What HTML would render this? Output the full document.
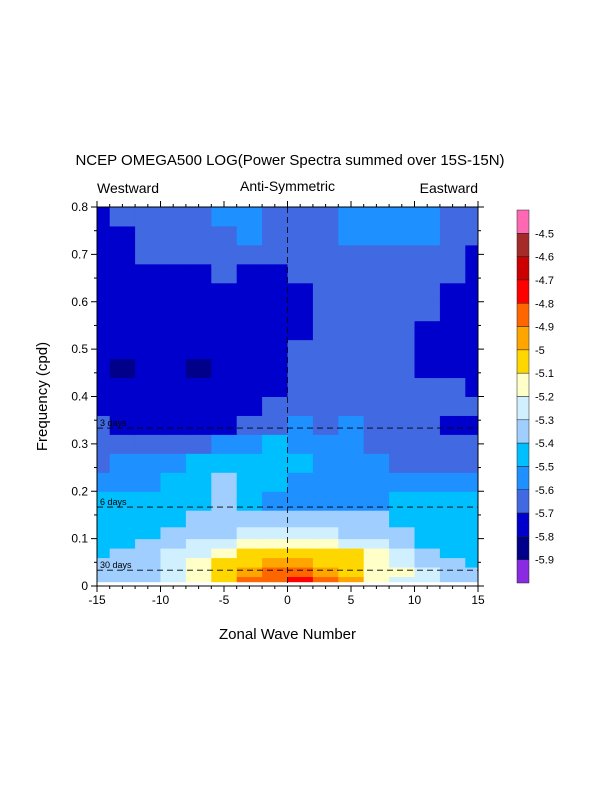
<!DOCTYPE html>
<html><head><meta charset="utf-8"><style>
body{margin:0;background:#fff;}
svg{display:block;font-family:"Liberation Sans",sans-serif;}
</style></head><body>
<svg id="chart" width="612" height="792">
<text x="290" y="165" font-size="15" text-anchor="middle">NCEP OMEGA500 LOG(Power Spectra summed over 15S-15N)</text>
<text x="97" y="193" font-size="14">Westward</text>
<text x="287.5" y="191" font-size="14" text-anchor="middle">Anti-Symmetric</text>
<text x="478" y="193" font-size="14" text-anchor="end">Eastward</text>
<text x="287.5" y="639" font-size="15" text-anchor="middle">Zonal Wave Number</text>
<text transform="translate(47,396.5) rotate(-90)" font-size="15" text-anchor="middle">Frequency (cpd)</text>
<g id="cells"></g>
<g id="axes"></g>
<g id="cbar"></g>
</svg>
<script>
const wavenumbers=[-15,-13,-11,-9,-7,-5,-3,-1,1,3,5,7,9,11,13,15];
const freqCenters=[0.01,0.03,0.05,0.07,0.09,0.11,0.14,0.18,0.22,0.26,0.30,0.34,0.38,0.42,0.46,0.50,0.54,0.58,0.62,0.66,0.70,0.74,0.78];
// values per row (log power), row order = freqCenters
const D=-5.75,R=-5.65,G=-5.55,S=-5.45,B=-5.35,C=-5.25,Y=-5.15,O1=-5.05,O2=-4.95,O3=-4.85,RD=-4.75,N=-5.85;
const powerRows=[
[B,B,B,C,Y,O1,O3,O3,RD,O3,O2,Y,C,C,B,B],
[B,B,B,C,Y,O1,O2,O3,O3,O2,O1,Y,Y,C,B,B],
[B,B,B,C,Y,O1,O1,O2,O2,O1,O1,Y,C,B,B,S],
[S,B,B,C,C,Y,O1,O1,O1,O1,O1,Y,C,B,S,S],
[S,S,B,B,C,C,Y,Y,Y,Y,C,C,B,S,S,S],
[S,S,S,B,B,B,C,C,C,C,B,B,B,S,S,S],
[S,S,S,S,B,B,B,B,B,B,B,B,S,S,S,S],
[S,S,S,S,S,B,S,G,G,G,G,G,S,S,S,S],
[G,G,G,S,S,B,S,S,G,G,G,G,G,G,G,G],
[R,G,G,G,S,S,S,S,S,G,G,G,R,R,R,R],
[R,R,R,R,R,G,G,S,G,G,G,R,R,R,R,R],
[R,D,D,D,D,D,R,R,G,R,G,R,R,R,D,D],
[D,D,D,D,D,D,D,R,R,R,R,R,R,R,R,R],
[D,D,D,D,D,D,D,D,R,R,R,R,R,R,R,D],
[D,N,D,D,N,D,D,D,R,R,R,R,R,D,D,D],
[D,D,D,D,D,D,D,D,R,R,R,R,R,D,D,D],
[D,D,D,D,D,D,D,D,D,R,R,R,R,D,D,D],
[D,D,D,D,D,D,D,D,D,R,R,R,R,R,D,D],
[D,D,D,D,D,D,D,D,D,R,R,R,R,R,D,D],
[D,D,D,D,D,R,D,D,R,R,R,R,R,R,R,D],
[D,D,R,R,R,R,R,R,R,R,R,R,R,R,R,D],
[D,D,R,R,R,R,G,R,R,R,G,G,G,G,R,R],
[D,R,R,R,R,G,G,R,R,R,G,G,G,G,R,R]];
const levels=[-5.9,-5.8,-5.7,-5.6,-5.5,-5.4,-5.3,-5.2,-5.1,-5,-4.9,-4.8,-4.7,-4.6,-4.5];
const levelLabels=["-4.5","-4.6","-4.7","-4.8","-4.9","-5","-5.1","-5.2","-5.3","-5.4","-5.5","-5.6","-5.7","-5.8","-5.9"];
const xTicks=[-15,-10,-5,0,5,10,15];
const yTicks=[0,0.1,0.2,0.3,0.4,0.5,0.6,0.7,0.8];
const periodLines=[3,6,30];
const colors=["#8a2be2","#00008b","#0000cd","#4169e1","#1e90ff","#00bfff","#a0cfff","#d0f0ff","#ffffc8","#ffd700","#ffa500","#ff6600","#ff0000","#cc0000","#a52a2a","#ff69b4"];
const X0=97,X1=478,Y0=586,Y1=207;
const xs=k=>X0+(k+15)/30*(X1-X0);
const ys=f=>Y0-f/0.8*(Y0-Y1);
const NS="http://www.w3.org/2000/svg";
function mk(tag,attrs,parent){const e=document.createElementNS(NS,tag);for(const a in attrs)e.setAttribute(a,attrs[a]);parent.appendChild(e);return e;}
function colorOf(v){let i=0;while(i<levels.length&&v>=levels[i])i++;return colors[i];}
const cells=document.getElementById('cells');
for(let r=0;r<freqCenters.length;r++){
  const lo=r===0?0:(freqCenters[r-1]+freqCenters[r])/2;
  const hi=r===freqCenters.length-1?0.8:(freqCenters[r]+freqCenters[r+1])/2;
  for(let c=0;c<wavenumbers.length;c++){
    const kl=Math.max(-15,c===0?-15:(wavenumbers[c-1]+wavenumbers[c])/2);
    const kh=Math.min(15,c===wavenumbers.length-1?15:(wavenumbers[c]+wavenumbers[c+1])/2);
    const e=mk('rect',{x:xs(kl),y:ys(hi),width:xs(kh)-xs(kl)+0.5,height:ys(lo)-ys(hi)+0.5,fill:colorOf(powerRows[r][c])},cells);
    
    
  }
}
const ax=document.getElementById('axes');
const ws=mk('rect',{x:X0,y:ys(0.008),width:X1-X0,height:Y0-ys(0.008),fill:"#fff"},ax);


const v0=mk('line',{x1:xs(0),x2:xs(0),y1:Y1,y2:Y0,stroke:"#000","stroke-width":0.8,"stroke-dasharray":"6,4"},ax);


periodLines.forEach(p=>{
  const y=ys(1/p);
  const l=mk('line',{x1:X0,x2:X1,y1:y,y2:y,stroke:"#000","stroke-width":0.8,"stroke-dasharray":"6,4"},ax);
  
  
  const t=mk('text',{x:X0+3,y:y-2,"font-size":9},ax);t.textContent=p+" days";
  
  
});
const fr=mk('rect',{x:X0,y:Y1,width:X1-X0,height:Y0-Y1,fill:"none",stroke:"#000","stroke-width":1},ax);


for(let k=-15;k<=15;k++){
  const maj=k%5===0,L=maj?6:3,x=xs(k);
  mk('line',{x1:x,x2:x,y1:Y0,y2:Y0+L,stroke:"#000"},ax);
  mk('line',{x1:x,x2:x,y1:Y1,y2:Y1-L,stroke:"#000"},ax);
}
xTicks.forEach(k=>{const t=mk('text',{x:xs(k),y:Y0+18,"font-size":12,"text-anchor":"middle"},ax);t.textContent=k;
  
  });
for(let i=0;i<=16;i++){
  const f=i*0.05,maj=i%2===0,L=maj?6:3,y=ys(f);
  mk('line',{x1:X0,x2:X0-L,y1:y,y2:y,stroke:"#000"},ax);
  mk('line',{x1:X1,x2:X1+L,y1:y,y2:y,stroke:"#000"},ax);
}
yTicks.forEach(f=>{const t=mk('text',{x:X0-9,y:ys(f)+4,"font-size":12,"text-anchor":"end"},ax);t.textContent=f;
  
  });
const cb=document.getElementById('cbar');
const cbTop=210,cbBot=583,n=colors.length,h=(cbBot-cbTop)/n;
for(let i=0;i<n;i++){
  const r=mk('rect',{x:517,y:cbTop+i*h,width:12,height:h,fill:colors[n-1-i],stroke:"#222","stroke-width":0.5},cb);
  
  
}
levelLabels.forEach((s,i)=>{const t=mk('text',{x:535,y:cbTop+(i+1)*h+4,"font-size":11},cb);t.textContent=s;
  
  });
</script>
</body></html>
